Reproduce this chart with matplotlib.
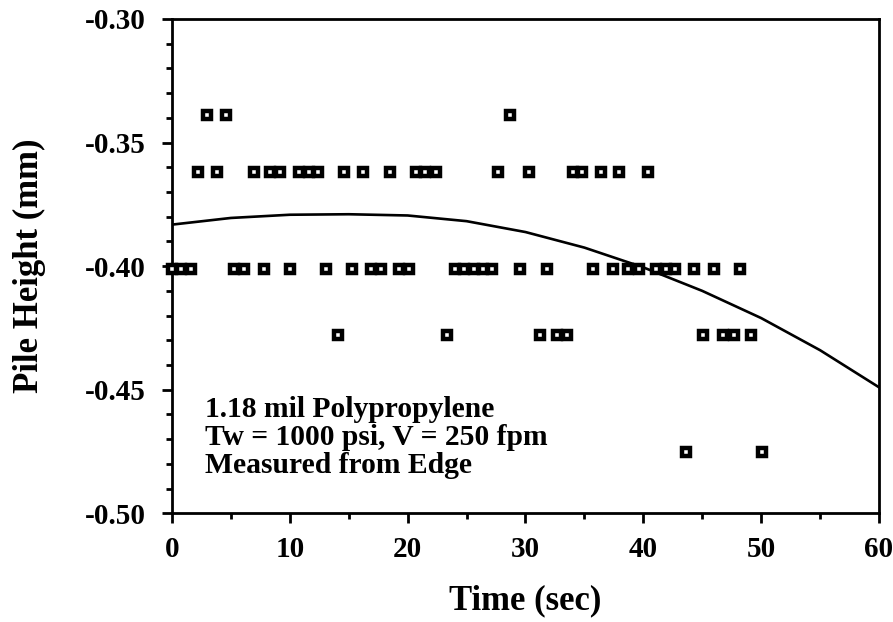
import numpy as np
import matplotlib
matplotlib.use("Agg")
import matplotlib.pyplot as plt
from matplotlib.ticker import MultipleLocator, FormatStrFormatter

plt.rcParams['font.family'] = ['Liberation Serif', 'DejaVu Serif']
plt.rcParams['font.weight'] = 'bold'

# Measured pile height (mm) grouped by the discrete height readings, with sample times (sec)
h_a, t_a = -0.339, [3.0, 4.6, 28.7]
h_b, t_b = -0.362, [2.2, 3.8, 7.0, 8.3, 9.2, 10.8, 11.6, 12.4, 14.6, 16.2, 18.5,
                    20.7, 21.5, 22.4, 27.7, 30.3, 34.0, 34.8, 36.4, 37.9, 40.4]
h_c, t_c = -0.401, [0.0, 0.8, 1.6, 5.3, 6.1, 7.8, 10.0, 13.1, 15.3, 16.9, 17.7,
                    19.3, 20.1, 24.0, 24.8, 25.6, 26.4, 27.2, 29.5, 31.8, 35.7,
                    37.4, 38.7, 39.6, 41.1, 41.9, 42.7, 44.3, 46.0, 48.2]
h_d, t_d = -0.428, [14.1, 23.3, 31.2, 32.7, 33.5, 45.1, 46.8, 47.7, 49.1]
h_e, t_e = -0.475, [43.6, 50.1]

# Fitted trend curve
curve_t = [0, 5, 10, 15, 20, 25, 30, 35, 40, 45, 50, 55, 60]
curve_h = [-0.3832, -0.3805, -0.3792, -0.3790, -0.3795, -0.3818, -0.3862,
           -0.3925, -0.4005, -0.4100, -0.4210, -0.4340, -0.4490]

x_ticks = [0, 10, 20, 30, 40, 50, 60]
y_ticks = [-0.50, -0.45, -0.40, -0.35, -0.30]

times = t_a + t_b + t_c + t_d + t_e
heights = ([h_a] * len(t_a) + [h_b] * len(t_b) + [h_c] * len(t_c)
           + [h_d] * len(t_d) + [h_e] * len(t_e))

fig = plt.figure(figsize=(8.93, 6.22), dpi=100)
ax = fig.add_axes([0.1926, 0.1747, 0.7917, 0.7948])

ax.plot(times, heights, linestyle='none', marker='s', markersize=5.6,
        markerfacecolor='white', markeredgecolor='black', markeredgewidth=3.2,
        clip_on=False, zorder=3)
ax.plot(curve_t, curve_h, color='black', linewidth=1.9, zorder=2)

ax.set_xlim(0, 60)
ax.set_ylim(-0.50, -0.30)
ax.set_xticks(x_ticks)
ax.set_yticks(y_ticks)
ax.xaxis.set_minor_locator(MultipleLocator(5))
ax.yaxis.set_minor_locator(MultipleLocator(0.01))
ax.yaxis.set_major_formatter(FormatStrFormatter('%.2f'))

for s in ax.spines.values():
    s.set_linewidth(2.0)
ax.tick_params(which='major', direction='out', length=7, width=2.0,
               labelsize=21, top=False, right=False)
ax.tick_params(axis='y', which='major', pad=12)
ax.tick_params(axis='x', which='major', pad=9)
ax.tick_params(which='minor', direction='out', length=4, width=2.0,
               top=False, right=False)
for lab in ax.get_xticklabels() + ax.get_yticklabels():
    lab.set_fontweight('bold')

ax.set_xlabel('Time (sec)', fontsize=25, fontweight='bold', labelpad=16)
ax.set_ylabel('Pile Height (mm)', fontsize=25, fontweight='bold', labelpad=28)

ax.text(0.046, 0.237,
        '1.18 mil Polypropylene\nTw = 1000 psi, V = 250 fpm\nMeasured from Edge',
        transform=ax.transAxes, fontsize=21.3, fontweight='bold',
        linespacing=1.04, va='top', ha='left')

fig.savefig('out.png', dpi=100)
